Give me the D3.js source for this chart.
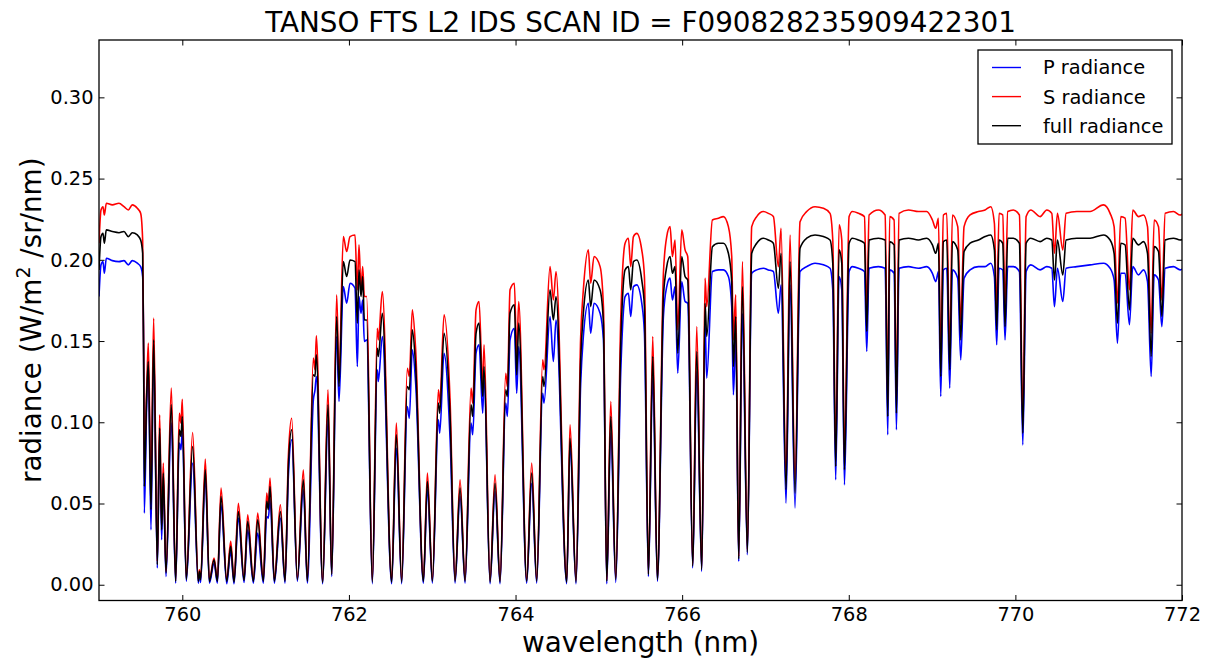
<!DOCTYPE html>
<html>
<head>
<meta charset="utf-8">
<script src="https://cdn.jsdelivr.net/npm/d3@7"></script>
<style>
  body { margin: 0; background: #fff; }
  svg text { font-family: "DejaVu Sans", sans-serif; fill: #000; }
</style>
</head>
<body>
<svg id="chart" width="1209" height="659"></svg>
<script>
// wavelength samples (nm)
const wavelength = [
  759.000, 759.024, 759.048, 759.064, 759.088, 759.160, 759.240, 759.300, 759.352, 759.400, 759.460, 759.500, 759.524, 759.536, 759.544, 759.572, 759.592, 759.624, 759.656, 759.700, 759.728, 759.752, 759.772, 759.804, 759.868, 759.920, 759.964, 759.984, 760.000, 760.048, 760.124, 760.192, 760.204, 760.220, 760.276, 760.325, 760.381, 760.421, 760.465,
  760.533, 760.581, 760.621, 760.673, 760.741, 760.785, 760.853, 760.905, 760.973, 761.013, 761.033, 761.053, 761.105, 761.177, 761.233, 761.273, 761.313, 761.381, 761.453, 761.501, 761.573, 761.593, 761.609, 761.685, 761.749, 761.793, 761.853, 761.881, 761.933, 761.973, 762.013,
  762.073, 762.101, 762.121, 762.145, 762.165, 762.185, 762.213, 762.281, 762.341, 762.353, 762.401, 762.513, 762.569, 762.633, 762.701, 762.725, 762.761, 762.801, 762.894, 762.942, 763.002, 763.074, 763.090, 763.142, 763.214, 763.274, 763.334, 763.394, 763.466, 763.486,
  763.526, 763.562, 763.606, 763.622, 763.694, 763.754, 763.814, 763.882, 763.902, 763.934, 763.986, 764.014, 764.038, 764.134, 764.194, 764.254, 764.326, 764.342, 764.414, 764.454, 764.486, 764.614, 764.654, 764.726, 764.782, 764.814, 764.874, 764.902, 764.942, 765.015,
  765.055, 765.095, 765.143, 765.203, 765.263, 765.315, 765.355, 765.383, 765.415, 765.455, 765.515, 765.547, 765.595, 765.647, 765.703, 765.775, 765.815, 765.855, 765.883, 765.915, 765.947, 765.995, 766.035, 766.067, 766.127, 766.175, 766.235, 766.275, 766.295, 766.363, 766.435, 766.495,
  766.555, 766.595, 766.615, 766.643, 766.679, 766.723, 766.783, 766.835, 766.895, 766.975, 767.035, 767.095, 767.155, 767.187, 767.247, 767.295, 767.355, 767.415, 767.495, 767.595, 767.695, 767.775, 767.808, 767.843, 767.884, 767.916, 767.948, 768.004,
  768.044, 768.116, 768.188, 768.216, 768.244, 768.356, 768.436, 768.468, 768.491, 768.544, 768.572, 768.604, 768.716, 768.836, 768.936, 769.004, 769.044, 769.076, 769.104, 769.136, 769.176, 769.212, 769.244, 769.308, 769.344, 769.384, 769.456, 769.556, 769.636, 769.704, 769.748, 769.776, 769.804, 769.848, 769.876, 769.908,
  769.976, 770.048, 770.089, 770.129, 770.185, 770.297, 770.377, 770.437, 770.469, 770.505, 770.569, 770.609, 770.737, 770.897, 771.057, 771.137, 771.185, 771.225, 771.265, 771.317, 771.369, 771.409, 771.477, 771.538, 771.586, 771.630, 771.666, 771.718, 771.758, 771.798, 771.898, 771.978, 772.036
];

// P polarisation radiance (W/m2/sr/nm)
const pRadiance = [
  0.1774, 0.1969, 0.1989, 0.1917, 0.2010, 0.1995, 0.1989, 0.1995, 0.1969, 0.1995, 0.1979, 0.1958, 0.1897, 0.1405, 0.0441, 0.1097, 0.1343, 0.0338, 0.1477, 0.0103, 0.0913, 0.0277, 0.0646, 0.0051, 0.0995, 0.0010, 0.0872, 0.0831, 0.0954, 0.0021, 0.0749, 0.0010, 0.0072, 0.0014, 0.0646, 0.0010, 0.0133, 0.0010, 0.0492,
  0.0006, 0.0205, 0.0006, 0.0410, 0.0014, 0.0338, 0.0010, 0.0318, 0.0010, 0.0420, 0.0410, 0.0523, 0.0010, 0.0410, 0.0010, 0.0667, 0.0892, 0.0021, 0.0585, 0.0010, 0.1138, 0.1200, 0.1282, 0.0006, 0.1015, 0.0051, 0.1528, 0.1128, 0.1835, 0.1733, 0.1856,
  0.1825, 0.1343, 0.1774, 0.1671, 0.1753, 0.1497, 0.1507, 0.0006, 0.1323, 0.1251, 0.1528, 0.0006, 0.0841, 0.0006, 0.1097, 0.1025, 0.1446, 0.1241, 0.0010, 0.0585, 0.0010, 0.1015, 0.0933, 0.1425, 0.0902, 0.0010, 0.0544, 0.0010, 0.0995, 0.0923,
  0.1425, 0.1477, 0.1056, 0.1282, 0.0006, 0.0574, 0.0006, 0.1118, 0.1036, 0.1507, 0.1579, 0.1179, 0.1466, 0.0010, 0.0625, 0.0010, 0.1179, 0.1118, 0.1651, 0.1374, 0.1630, 0.0006, 0.0851, 0.0006, 0.1241, 0.1528, 0.1733, 0.1548, 0.1733, 0.1671,
  0.1507, 0.0006, 0.0933, 0.0014, 0.1313, 0.1774, 0.1794, 0.1651, 0.1835, 0.1846, 0.1733, 0.1548, 0.0051, 0.1282, 0.0021, 0.1651, 0.1835, 0.1887, 0.1753, 0.1835, 0.1302, 0.1866, 0.1743, 0.1733, 0.0103, 0.1313, 0.0082, 0.1610, 0.1272, 0.1928, 0.1938, 0.1938,
  0.1897, 0.1712, 0.1169, 0.1528, 0.0143, 0.1671, 0.0185, 0.1917, 0.1938, 0.1948, 0.1938, 0.1928, 0.1671, 0.1846, 0.0502, 0.1846, 0.0472, 0.1928, 0.1958, 0.1979, 0.1969, 0.1948, 0.1815, 0.0646, 0.1897, 0.1815, 0.0615, 0.1928,
  0.1958, 0.1948, 0.1928, 0.1436, 0.1948, 0.1958, 0.1948, 0.0923, 0.1938, 0.1917, 0.0954, 0.1948, 0.1958, 0.1948, 0.1958, 0.1917, 0.1866, 0.1928, 0.1159, 0.1938, 0.1948, 0.1210, 0.1938, 0.1887, 0.1384, 0.1887, 0.1938, 0.1958, 0.1958, 0.1979, 0.1897, 0.1477, 0.1948, 0.1938, 0.1507, 0.1958,
  0.1958, 0.1928, 0.0861, 0.1928, 0.1969, 0.1938, 0.1958, 0.1948, 0.1712, 0.1948, 0.1743, 0.1948, 0.1958, 0.1969, 0.1979, 0.1948, 0.1876, 0.1487, 0.1917, 0.1917, 0.1600, 0.1958, 0.1907, 0.1938, 0.1866, 0.1282, 0.1907, 0.1876, 0.1589, 0.1948, 0.1958, 0.1938, 0.1958
];

// S polarisation radiance
const sRadiance = [
  0.2102, 0.2307, 0.2327, 0.2276, 0.2348, 0.2338, 0.2348, 0.2327, 0.2307, 0.2338, 0.2317, 0.2286, 0.2122, 0.1405, 0.0769, 0.1200, 0.1487, 0.0585, 0.1641, 0.0143, 0.1046, 0.0379, 0.0749, 0.0082, 0.1210, 0.0031, 0.1056, 0.0995, 0.1142, 0.0041, 0.0937, 0.0031, 0.0092, 0.0041, 0.0773, 0.0031, 0.0164, 0.0031, 0.0595,
  0.0031, 0.0267, 0.0027, 0.0502, 0.0035, 0.0431, 0.0031, 0.0441, 0.0031, 0.0564, 0.0482, 0.0656, 0.0031, 0.0492, 0.0031, 0.0790, 0.1025, 0.0041, 0.0708, 0.0031, 0.1395, 0.1323, 0.1532, 0.0021, 0.1200, 0.0072, 0.1784, 0.1282, 0.2143, 0.2051, 0.2143,
  0.2153, 0.1815, 0.2092, 0.1815, 0.1958, 0.1774, 0.1774, 0.0027, 0.1579, 0.1507, 0.1805, 0.0027, 0.0995, 0.0027, 0.1333, 0.1282, 0.1692, 0.1446, 0.0031, 0.0687, 0.0031, 0.1200, 0.1118, 0.1661, 0.1138, 0.0031, 0.0646, 0.0031, 0.1210, 0.1118,
  0.1692, 0.1743, 0.1220, 0.1477, 0.0027, 0.0677, 0.0027, 0.1302, 0.1220, 0.1815, 0.1856, 0.1405, 0.1743, 0.0031, 0.0749, 0.0031, 0.1384, 0.1323, 0.1958, 0.1753, 0.1928, 0.0027, 0.0984, 0.0027, 0.1528, 0.1815, 0.2061, 0.1856, 0.2020, 0.1958,
  0.1712, 0.0031, 0.1128, 0.0041, 0.1641, 0.2102, 0.2133, 0.1958, 0.2143, 0.2163, 0.2061, 0.1897, 0.0072, 0.1528, 0.0041, 0.1917, 0.2143, 0.2204, 0.2020, 0.2122, 0.1569, 0.2184, 0.2061, 0.2020, 0.0123, 0.1589, 0.0103, 0.1887, 0.1712, 0.2245, 0.2256, 0.2266,
  0.2204, 0.2020, 0.1507, 0.1784, 0.0174, 0.1989, 0.0215, 0.2204, 0.2266, 0.2297, 0.2286, 0.2266, 0.1958, 0.2194, 0.0667, 0.2153, 0.0646, 0.2235, 0.2297, 0.2327, 0.2317, 0.2286, 0.2122, 0.0810, 0.2215, 0.2122, 0.0790, 0.2266,
  0.2297, 0.2286, 0.2266, 0.1671, 0.2276, 0.2307, 0.2276, 0.1138, 0.2266, 0.2245, 0.1159, 0.2286, 0.2307, 0.2297, 0.2297, 0.2245, 0.2194, 0.2256, 0.1384, 0.2276, 0.2286, 0.1425, 0.2276, 0.2204, 0.1610, 0.2204, 0.2276, 0.2297, 0.2307, 0.2327, 0.2225, 0.1671, 0.2286, 0.2276, 0.1712, 0.2297,
  0.2307, 0.2276, 0.1015, 0.2266, 0.2307, 0.2266, 0.2307, 0.2286, 0.2040, 0.2286, 0.2061, 0.2286, 0.2297, 0.2297, 0.2338, 0.2286, 0.2204, 0.1733, 0.2266, 0.2256, 0.1815, 0.2307, 0.2266, 0.2276, 0.2204, 0.1548, 0.2245, 0.2204, 0.1753, 0.2286, 0.2297, 0.2276, 0.2297
];

// full (P+S) radiance
const fullRadiance = [
  0.1938, 0.2143, 0.2163, 0.2102, 0.2184, 0.2174, 0.2167, 0.2174, 0.2143, 0.2167, 0.2153, 0.2122, 0.2040, 0.1405, 0.0605, 0.1159, 0.1374, 0.0462, 0.1507, 0.0123, 0.0964, 0.0338, 0.0687, 0.0072, 0.1107, 0.0021, 0.0954, 0.0913, 0.1036, 0.0031, 0.0851, 0.0021, 0.0082, 0.0031, 0.0708, 0.0021, 0.0154, 0.0021, 0.0544,
  0.0021, 0.0236, 0.0016, 0.0451, 0.0027, 0.0390, 0.0021, 0.0400, 0.0021, 0.0513, 0.0462, 0.0605, 0.0021, 0.0451, 0.0021, 0.0728, 0.0954, 0.0031, 0.0646, 0.0021, 0.1292, 0.1282, 0.1415, 0.0014, 0.1107, 0.0062, 0.1651, 0.1220, 0.1989, 0.1897, 0.1999,
  0.1989, 0.1610, 0.1938, 0.1774, 0.1897, 0.1630, 0.1630, 0.0016, 0.1456, 0.1405, 0.1671, 0.0016, 0.0923, 0.0016, 0.1220, 0.1200, 0.1569, 0.1343, 0.0021, 0.0636, 0.0021, 0.1118, 0.1056, 0.1548, 0.1036, 0.0021, 0.0595, 0.0021, 0.1107, 0.1036,
  0.1548, 0.1610, 0.1159, 0.1343, 0.0016, 0.0625, 0.0016, 0.1200, 0.1159, 0.1671, 0.1723, 0.1292, 0.1610, 0.0021, 0.0687, 0.0021, 0.1282, 0.1220, 0.1815, 0.1630, 0.1774, 0.0016, 0.0902, 0.0016, 0.1384, 0.1671, 0.1876, 0.1712, 0.1876, 0.1815,
  0.1610, 0.0021, 0.1036, 0.0031, 0.1487, 0.1938, 0.1958, 0.1815, 0.1989, 0.1999, 0.1876, 0.1712, 0.0062, 0.1405, 0.0031, 0.1774, 0.1958, 0.2020, 0.1917, 0.1958, 0.1425, 0.2020, 0.1897, 0.1876, 0.0113, 0.1436, 0.0092, 0.1733, 0.1528, 0.2081, 0.2102, 0.2102,
  0.2040, 0.1866, 0.1343, 0.1651, 0.0158, 0.1835, 0.0199, 0.2040, 0.2102, 0.2133, 0.2122, 0.2102, 0.1825, 0.2040, 0.0585, 0.1989, 0.0564, 0.2071, 0.2133, 0.2153, 0.2143, 0.2122, 0.1979, 0.0728, 0.2061, 0.1979, 0.0708, 0.2102,
  0.2133, 0.2122, 0.2102, 0.1559, 0.2122, 0.2133, 0.2122, 0.1036, 0.2112, 0.2092, 0.1056, 0.2122, 0.2133, 0.2122, 0.2133, 0.2092, 0.2040, 0.2102, 0.1282, 0.2112, 0.2122, 0.1323, 0.2112, 0.2061, 0.1507, 0.2051, 0.2102, 0.2122, 0.2143, 0.2153, 0.2061, 0.1569, 0.2122, 0.2102, 0.1589, 0.2133,
  0.2133, 0.2102, 0.0933, 0.2102, 0.2133, 0.2112, 0.2133, 0.2122, 0.1876, 0.2122, 0.1907, 0.2122, 0.2133, 0.2133, 0.2153, 0.2122, 0.2040, 0.1610, 0.2102, 0.2092, 0.1692, 0.2133, 0.2092, 0.2112, 0.2040, 0.1405, 0.2081, 0.2051, 0.1651, 0.2122, 0.2133, 0.2122, 0.2133
];

const xTicks = [760, 762, 764, 766, 768, 770, 772];
const yTicks = [0.00, 0.05, 0.10, 0.15, 0.20, 0.25, 0.30];
const seriesNames = ["P radiance", "S radiance", "full radiance"];
const seriesColors = ["#0000ff", "#ff0000", "#000000"];
const titleText = "TANSO FTS L2 IDS SCAN ID = F090828235909422301";

// plot box
const box = { left: 99, top: 40, right: 1182, bottom: 600.5 };

const svg = d3.select("#chart");

const x = d3.scaleLinear().domain([759, 772]).range([box.left, box.right]);
const y = d3.scaleLinear().domain([-0.0097, 0.3353]).range([box.bottom, box.top]);

svg.append("defs").append("clipPath")
  .attr("id", "plot-clip")
  .append("rect")
  .attr("x", box.left).attr("y", box.top)
  .attr("width", box.right - box.left).attr("height", box.bottom - box.top);

// series lines: P first, S, then full on top
const series = [pRadiance, sRadiance, fullRadiance];
const line = (vals) => d3.line()
  .x((d, i) => x(wavelength[i]))
  .y((d) => y(d))
  .curve(d3.curveMonotoneX)(vals);

const plot = svg.append("g").attr("clip-path", "url(#plot-clip)");
series.forEach((vals, i) => {
  plot.append("path")
    .attr("d", line(vals))
    .attr("fill", "none")
    .attr("stroke", seriesColors[i])
    .attr("stroke-width", 1.6)
    .attr("stroke-linejoin", "round");
});

// axes, ticks pointing inward on all four sides
const tickLen = 5.5;
const fs = "19.4px";

const gx = svg.append("g")
  .attr("transform", `translate(0,${box.bottom})`)
  .call(d3.axisBottom(x).tickValues(xTicks).tickFormat(d3.format("d"))
    .tickSizeInner(-tickLen).tickSizeOuter(0).tickPadding(7));
const gy = svg.append("g")
  .attr("transform", `translate(${box.left},0)`)
  .call(d3.axisLeft(y).tickValues(yTicks).tickFormat(d3.format(".2f"))
    .tickSizeInner(-tickLen).tickSizeOuter(0).tickPadding(5.5));
const gt = svg.append("g")
  .attr("transform", `translate(0,${box.top})`)
  .call(d3.axisTop(x).tickValues(xTicks).tickFormat("")
    .tickSizeInner(-tickLen).tickSizeOuter(0));
const gr = svg.append("g")
  .attr("transform", `translate(${box.right},0)`)
  .call(d3.axisRight(y).tickValues(yTicks).tickFormat("")
    .tickSizeInner(-tickLen).tickSizeOuter(0));

[gx, gy, gt, gr].forEach(g => {
  g.select(".domain").remove();
  g.selectAll(".tick line").attr("stroke", "#000").attr("stroke-width", 1);
  g.selectAll(".tick text")
    .attr("fill", "#000")
    .style("font-family", "'DejaVu Sans', sans-serif")
    .style("font-size", fs);
});

svg.append("rect")
  .attr("x", box.left).attr("y", box.top)
  .attr("width", box.right - box.left).attr("height", box.bottom - box.top)
  .attr("fill", "none")
  .attr("stroke", "#000")
  .attr("stroke-width", 1.3);

// title and axis labels
svg.append("text")
  .attr("x", (box.left + box.right) / 2)
  .attr("y", 32)
  .attr("text-anchor", "middle")
  .style("font-size", "27.8px")
  .text(titleText);

svg.append("text")
  .attr("x", (box.left + box.right) / 2)
  .attr("y", 652)
  .attr("text-anchor", "middle")
  .style("font-size", "27.8px")
  .text("wavelength (nm)");

const ylab = svg.append("text")
  .attr("transform", `translate(41,${(box.top + box.bottom) / 2}) rotate(-90)`)
  .attr("text-anchor", "middle")
  .style("font-size", "27.8px");
ylab.append("tspan").text("radiance (W/m");
ylab.append("tspan").attr("dy", -11).style("font-size", "19px").text("2");
ylab.append("tspan").attr("dy", 11).text(" /sr/nm)");

// legend
const legend = svg.append("g");
legend.append("rect")
  .attr("x", 978).attr("y", 50)
  .attr("width", 194).attr("height", 94)
  .attr("fill", "#fff")
  .attr("stroke", "#000")
  .attr("stroke-width", 1.3);

seriesNames.forEach((name, i) => {
  const ly = 67.5 + i * 29.1;
  legend.append("line")
    .attr("x1", 992).attr("x2", 1021)
    .attr("y1", ly).attr("y2", ly)
    .attr("stroke", seriesColors[i])
    .attr("stroke-width", 1.4);
  legend.append("text")
    .attr("x", 1043).attr("y", ly)
    .attr("dy", "0.36em")
    .style("font-size", fs)
    .text(name);
});
</script>
</body>
</html>
